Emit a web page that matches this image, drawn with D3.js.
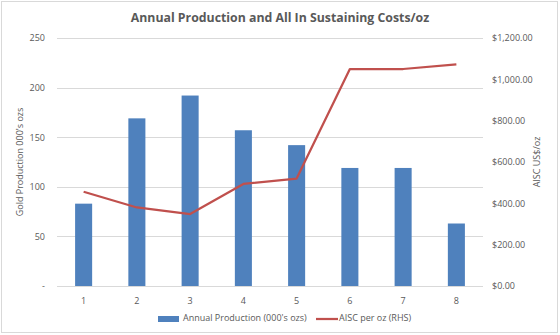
<!DOCTYPE html>
<html>
<head>
<meta charset="utf-8">
<script src="https://cdn.jsdelivr.net/npm/d3@7"></script>
<style>
  body { margin: 0; background: #fff; }
  text { font-family: "Open Sans", "Noto Sans", sans-serif; fill: #595959; }
</style>
</head>
<body>
<div id="chart"></div>
<script>
// data
const years = ["1", "2", "3", "4", "5", "6", "7", "8"];
const production = [83, 169, 192, 157, 142, 119, 119, 63];
const aisc = [456, 380, 348, 494, 520, 1050, 1050, 1072];
const leftTicks = [0, 50, 100, 150, 200, 250];
const rightTicks = [0, 200, 400, 600, 800, 1000, 1200];

const W = 560, H = 335;
const margin = {top: 38, right: 77, bottom: 49, left: 57},
    width = W - margin.left - margin.right,
    height = H - margin.top - margin.bottom;

var svg = d3.select("#chart")
  .append("svg")
    .attr("width", W)
    .attr("height", H);

// chart border
svg.append("rect")
    .attr("x", 1.5).attr("y", 1.5)
    .attr("width", W - 4).attr("height", H - 4)
    .attr("fill", "#fff")
    .attr("stroke", "#d9d9d9");

var g = svg.append("g")
    .attr("transform", "translate(" + margin.left + "," + margin.top + ")");

var x = d3.scaleBand()
  .domain(years)
  .range([0, width])
  .padding(0);

var y = d3.scaleLinear().domain([0, 250]).range([height, 0]);
var yR = d3.scaleLinear().domain([0, 1200]).range([height, 0]);

// gridlines
g.append("g")
  .selectAll("line")
  .data(leftTicks)
  .enter().append("line")
    .attr("x1", 0).attr("x2", width)
    .attr("y1", d => Math.round(y(d)) + 0.5)
    .attr("y2", d => Math.round(y(d)) + 0.5)
    .attr("stroke", "#d9d9d9")
    .attr("stroke-width", 1);

// left axis
var yAxis = g.append("g")
  .call(d3.axisLeft(y).tickValues(leftTicks)
    .tickSize(0).tickPadding(12)
    .tickFormat(d => d === 0 ? "-" : d));
yAxis.select(".domain").remove();
yAxis.selectAll("text").style("font-size", "9px");

// right axis
var yRAxis = g.append("g")
  .attr("transform", "translate(" + width + ",0)")
  .call(d3.axisRight(yR).tickValues(rightTicks)
    .tickSize(0).tickPadding(9)
    .tickFormat(d => "$" + d3.format(",.2f")(d)));
yRAxis.select(".domain").remove();
yRAxis.selectAll("text").style("font-size", "9px");

// x axis
var xAxis = g.append("g")
  .attr("transform", "translate(0," + height + ")")
  .call(d3.axisBottom(x).tickSize(0).tickPadding(12));
xAxis.select(".domain").remove();
xAxis.selectAll("text").style("font-size", "9px");

// bars
var barW = x.bandwidth() * 0.32;
g.selectAll(".bar")
  .data(years)
  .enter().append("rect")
    .attr("class", "bar")
    .attr("x", d => x(d) + x.bandwidth() / 2 - barW / 2)
    .attr("y", (d, i) => y(production[i]))
    .attr("width", barW)
    .attr("height", (d, i) => height - y(production[i]))
    .attr("fill", "#4f81bd");

// AISC line
var line = d3.line()
  .x((d, i) => x(years[i]) + x.bandwidth() / 2)
  .y(d => yR(d));

g.append("path")
  .datum(aisc)
  .attr("fill", "none")
  .attr("stroke", "#c0504d")
  .attr("stroke-width", 2.25)
  .attr("stroke-linejoin", "round")
  .attr("d", line);

// title
svg.append("text")
  .attr("x", 280).attr("y", 22)
  .attr("text-anchor", "middle")
  .style("font-size", "12.3px")
  .style("font-weight", "bold")
  .text("Annual Production and All In Sustaining Costs/oz");

// axis titles
svg.append("text")
  .attr("transform", "translate(23," + (margin.top + height / 2) + ") rotate(-90)")
  .attr("text-anchor", "middle")
  .style("font-size", "9px")
  .text("Gold Production 000's ozs");

svg.append("text")
  .attr("transform", "translate(540," + (margin.top + height / 2) + ") rotate(-90)")
  .attr("text-anchor", "middle")
  .style("font-size", "9px")
  .text("AISC US$/oz");

// legend
svg.append("rect")
  .attr("x", 158).attr("y", 316)
  .attr("width", 21).attr("height", 6)
  .attr("fill", "#4f81bd");
svg.append("text")
  .attr("x", 183).attr("y", 319)
  .attr("dominant-baseline", "middle")
  .style("font-size", "9px")
  .text("Annual Production (000's ozs)");

svg.append("line")
  .attr("x1", 316).attr("x2", 338)
  .attr("y1", 319).attr("y2", 319)
  .attr("stroke", "#c0504d")
  .attr("stroke-width", 2.25);
svg.append("text")
  .attr("x", 339).attr("y", 319)
  .attr("dominant-baseline", "middle")
  .style("font-size", "9px")
  .text("AISC per oz (RHS)");
</script>
</body>
</html>
